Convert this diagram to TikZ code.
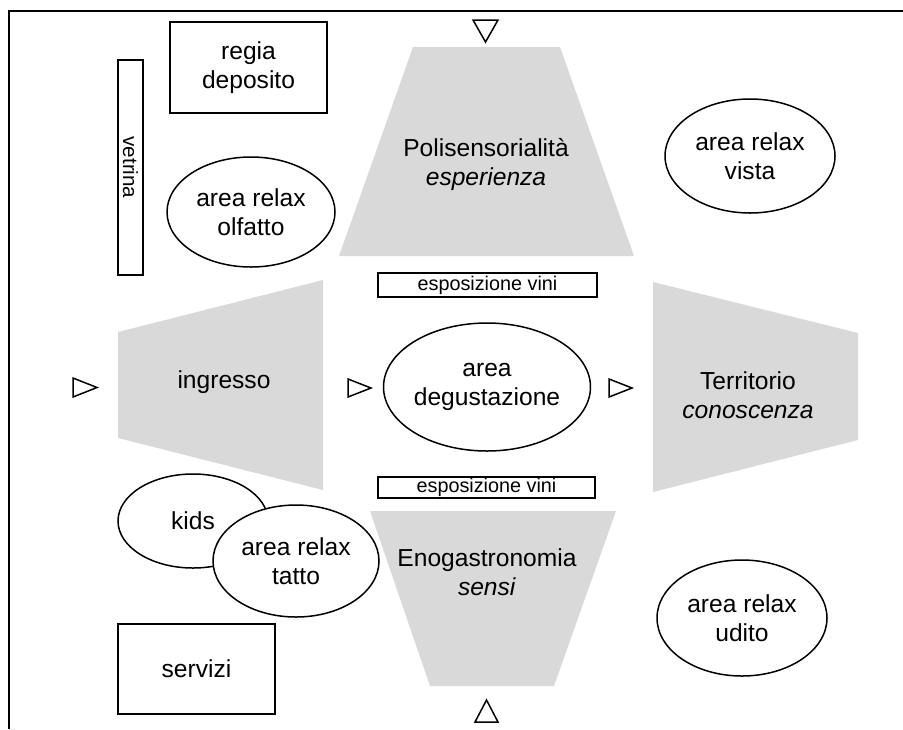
\documentclass[tikz,border=0pt]{standalone}
\usepackage{fontspec}
\setmainfont{Liberation Sans}
\usetikzlibrary{shapes.geometric}
\definecolor{zonegray}{RGB}{217,217,217}
\tikzset{
  px/.style={x=0.5pt,y=-0.5pt},
  zone/.style={fill=zonegray,draw=none},
  box/.style={draw,line width=0.8pt,inner sep=0pt,font=\fontsize{12.3}{14.5}\selectfont,align=center},
  smallbox/.style={draw,line width=0.8pt,inner sep=0pt,font=\fontsize{9.9}{11}\selectfont},
  room/.style={draw,line width=0.75pt,ellipse,inner sep=0pt,fill=white,font=\fontsize{12.3}{14.5}\selectfont,align=center},
  lbl/.style={font=\fontsize{12.3}{14.5}\selectfont,align=center,inner sep=0pt},
  tri/.style={draw,line width=0.75pt,line join=miter},
  frame/.style={line width=1pt}
}
\begin{document}
\begin{tikzpicture}[px]
\useasboundingbox (0,0) rectangle (903,729);
% frame (top and left only)
\coordinate (fTL) at (9,11);
\coordinate (fTR) at (903,11);
\coordinate (fBL) at (9,729);
\draw[frame] (fBL) -- (fTL) -- (fTR);

% grey zones
\path[zone] (413,47) -- (560,47) -- (634,256) -- (339,256) -- cycle;
\path[zone] (118,332) -- (323,280) -- (323,490) -- (118,438) -- cycle;
\path[zone] (653,282) -- (858,333) -- (858,440) -- (653,492) -- cycle;
\path[zone] (370,511) -- (616,511) -- (554,686) -- (430,686) -- cycle;

\node[lbl] (poli) at (486,164) {Polisensorialità\\\textit{esperienza}};
\node[lbl] (ingr) at (224,382) {ingresso};
\node[lbl] (terr) at (748,395) {Territorio\\\textit{conoscenza}};
\node[lbl] (enog) at (487,572) {Enogastronomia\\\textit{sensi}};

% rectangles
\node[box,minimum width=78.5pt,minimum height=45.5pt] (regia) at (248.5,67.5) {regia\\deposito};
\node[box,minimum width=12.5pt,minimum height=107.5pt] (vetr) at (130.5,167.5) {};
\node[font=\fontsize{10.3}{12}\selectfont,rotate=-90,inner sep=0pt] (vetrtxt) at (vetr.center) {vetrina};
\node[smallbox,minimum width=109.5pt,minimum height=12pt] (espT) at (487.5,285) {esposizione vini};
\node[smallbox,minimum width=108.5pt,minimum height=10.5pt] (espB) at (486.5,487.5) {esposizione vini};
\node[box,minimum width=78.5pt,minimum height=45pt] (serv) at (196.5,669) {servizi};

% ellipses
\node[room,minimum width=84pt,minimum height=55pt] (olf) at (251,212) {area relax\\olfatto};
\node[room,minimum width=85pt,minimum height=57pt] (vista) at (750,156) {area relax\\vista};
\node[room,minimum width=93pt,minimum height=64pt] (degu) at (487,387) {area\\degustazione};
\node[room,minimum width=75pt,minimum height=47pt] (kids) at (193,521) {kids};
\node[room,minimum width=83pt,minimum height=56pt] (tatto) at (296,561) {area relax\\tatto};
\node[room,minimum width=85pt,minimum height=58pt] (udito) at (742,618) {area relax\\udito};

% direction triangles
\draw[tri] (473,20) -- (498,20) -- (485.5,42) -- cycle;
\draw[tri] (475,722) -- (498,722) -- (486.5,700) -- cycle;
\draw[tri] (73,378) -- (97,387.5) -- (73,397) -- cycle;
\draw[tri] (348,379) -- (371,388) -- (348,397) -- cycle;
\draw[tri] (609,379) -- (632,388) -- (609,397) -- cycle;
\end{tikzpicture}
\end{document}
